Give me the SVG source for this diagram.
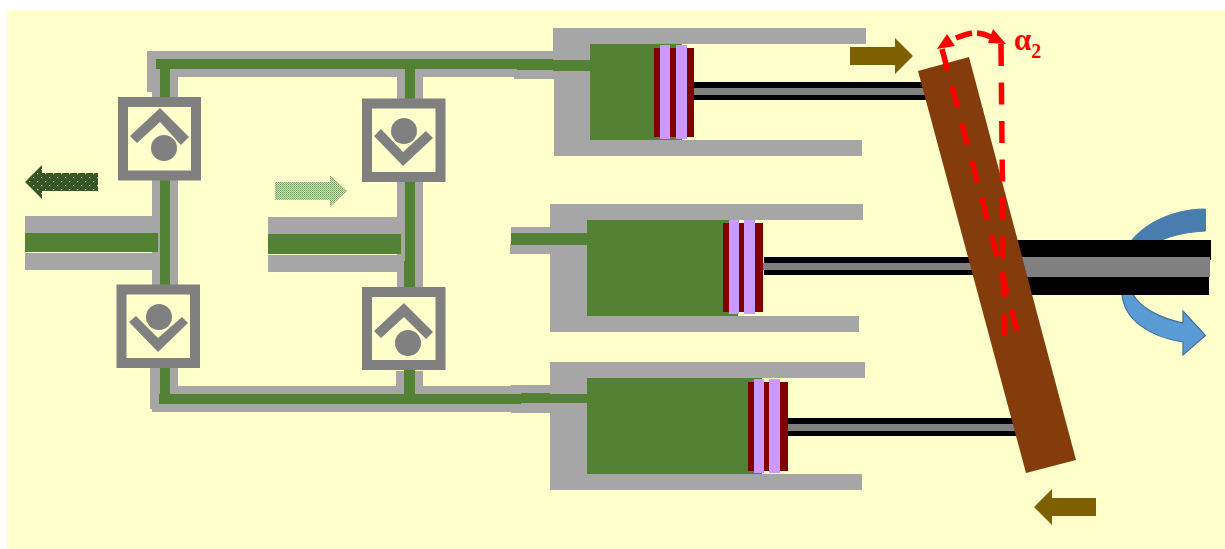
<svg xmlns="http://www.w3.org/2000/svg" width="1225" height="549" viewBox="0 0 1225 549">
<style>
.g{fill:#A6A6A6}.f{fill:#548235}.r{fill:#800000}.l{fill:#CC99FF}.k{fill:#000}.m{fill:#808080}
.box{fill:#FFFFCC;stroke:#808080;stroke-width:10}
.v{fill:#808080}.o{fill:#7F6000}
.red{fill:none;stroke:#FF0000;stroke-width:5.5}
.dash{stroke-dasharray:22 16.5}
</style>
<defs>
<pattern id="dots" width="8" height="8" patternUnits="userSpaceOnUse">
<rect width="8" height="8" fill="#375623"/>
<rect x="1" y="1" width="1.2" height="1.2" fill="#E8F0D8"/>
<rect x="5" y="5" width="1.2" height="1.2" fill="#E8F0D8"/>
</pattern>
<pattern id="fine" width="2" height="2" patternUnits="userSpaceOnUse">
<rect width="2" height="2" fill="#CFE3BE"/>
<rect width="1" height="1" fill="#6E9A58"/>
<rect x="1" y="1" width="1" height="1" fill="#8DB07A"/>
</pattern>
</defs>
<rect x="7" y="10" width="1218" height="539" fill="#FFFFCC"/>
<g id="connectors">
<rect class="g" x="25" y="216" width="135" height="17"/>
<rect class="g" x="25" y="253" width="135" height="17"/>
<rect class="g" x="268" y="217" width="135" height="17"/>
<rect class="g" x="268" y="255" width="135" height="17"/>
<path class="g" d="M147 51H553V77H423V260H423V287H397V260H396V272H397V77H178V386H396V371H423V386H511V385H550V413H511V412H152V409H150V368H152V92H147Z"/>
<rect class="g" x="514" y="70" width="40" height="9"/>
<rect class="g" x="511" y="227" width="39" height="7"/>
<rect class="g" x="510" y="244" width="40" height="10"/>
<rect class="f" x="25" y="233" width="133" height="19"/>
<rect class="f" x="268" y="234" width="133" height="20"/>
<rect class="f" x="156" y="59" width="361" height="10"/>
<rect class="f" x="517" y="59" width="37" height="11"/>
<rect class="f" x="160" y="59" width="10" height="335"/>
<rect class="f" x="405" y="59" width="10" height="202"/>
<rect class="f" x="404" y="261" width="11" height="133"/>
<rect class="f" x="159" y="394" width="362" height="10"/>
<rect class="f" x="521" y="393" width="29" height="10"/>
</g>
<g id="valve-1">
<rect class="box" x="123" y="102" width="73" height="73.500"/>
<polygon class="v" points="160,108 130,136 137,143 160,122 181,145 189,137"/>
<circle class="v" cx="164" cy="148" r="13"/>
</g>
<g id="valve-2">
<rect class="box" x="367" y="103.500" width="73.500" height="73.500"/>
<polygon class="v" points="374,136 381,129 403,152 426,131 433,138 403,166"/>
<circle class="v" cx="404" cy="131" r="13"/>
</g>
<g id="valve-3">
<rect class="box" x="121.500" y="289.500" width="73.500" height="73.500"/>
<polygon class="v" points="129,322 136,316 158,338 182,317 188,323 158,352"/>
<circle class="v" cx="159" cy="317" r="13"/>
</g>
<g id="valve-4">
<rect class="box" x="367" y="292" width="73.500" height="73"/>
<polygon class="v" points="404,303 374,331 381,338 404,317 426,339 433,332"/>
<circle class="v" cx="408" cy="343" r="13"/>
</g>
<g id="cylinder-1">
<path class="g" d="M553 28H866V44H591V140H862V156H554V72H553Z"/>
<rect class="f" x="590" y="44" width="92" height="96"/>
<rect class="f" x="553" y="60" width="38" height="11"/>
<rect class="k" x="694" y="82" width="240" height="18"/>
<rect class="m" x="694" y="88" width="240" height="7"/>
<rect class="r" x="654" y="48" width="40" height="89"/>
<rect class="l" x="660" y="45" width="10" height="94"/>
<rect class="l" x="676" y="45" width="11" height="94"/>
</g>
<g id="cylinder-2">
<path class="g" d="M550 204H863V220H587V316H859V332H550Z"/>
<rect class="f" x="587" y="220" width="151" height="96"/>
<rect class="f" x="511" y="233" width="76" height="12"/>
<rect class="k" x="764" y="257" width="225" height="18"/>
<rect class="m" x="763" y="263" width="226" height="7"/>
<rect class="r" x="723" y="223" width="40" height="89"/>
<rect class="l" x="729" y="220" width="10" height="94"/>
<rect class="l" x="744" y="220" width="11" height="94"/>
</g>
<g id="cylinder-3">
<path class="g" d="M550 362H865V378H587V474H862V490H550Z"/>
<rect class="f" x="587" y="378" width="175" height="96"/>
<rect class="f" x="550" y="394" width="37" height="9"/>
<rect class="k" x="788" y="418" width="235" height="18"/>
<rect class="m" x="788" y="424" width="235" height="7"/>
<rect class="r" x="748" y="382" width="40" height="89"/>
<rect class="l" x="754" y="379" width="10" height="94"/>
<rect class="l" x="769" y="379" width="11" height="94"/>
</g>
<g id="rotation-arrow">
<path d="M1131 241C1146 222 1175 209 1205.500 209V231C1188 232 1172 235 1160 241Z" fill="#4A7DAF" stroke="#4A7DAF"/>
<path d="M1122 294C1124 320 1150 337 1183 342V355L1205.500 335.500L1183 311V323C1160 318 1140 308 1133 294Z" fill="#5B9BD5" stroke="#41719C" stroke-width="1.200"/>
</g>
<g id="shaft">
<rect class="k" x="1000" y="240" width="211" height="20"/>
<rect class="k" x="1000" y="260" width="209" height="35"/>
<rect class="m" x="1000" y="257" width="210" height="20"/>
</g>
<g id="swash-plate">
<polygon points="918,71 969,57 1076,460 1026,473" fill="#843C0C"/>
</g>
<g id="angle">
<path class="red dash" d="M942 49L1017 331"/>
<path class="red dash" d="M1001 44L1004 337"/>
<polygon points="947,34 937,49 955,46" fill="#FF0000"/>
<polygon points="993,29 988,43 1006,44" fill="#FF0000"/>
<path class="red" d="M956 38Q964 34.500 972 33"/>
<path class="red" d="M977 33Q984 33.500 991 37"/>
<text x="1014" y="50" font-family="'Liberation Serif',serif" font-weight="700" font-size="31" fill="#FF0000">α<tspan font-size="20" dy="8">2</tspan></text>
</g>
<g id="flow-arrows">
<polygon points="25,182 42,165 42,173 98,173 98,191 42,191 42,199" fill="url(#dots)"/>
<polygon points="275,182 330,182 330,175 347,191 330,207 330,200 275,200" fill="url(#fine)"/>
<polygon class="o" points="850,47 895,47 895,38 913,56 895,74 895,65 850,65"/>
<polygon class="o" points="1034,507 1052,489 1052,498 1096,498 1096,516 1052,516 1052,525"/>
</g>
</svg>
